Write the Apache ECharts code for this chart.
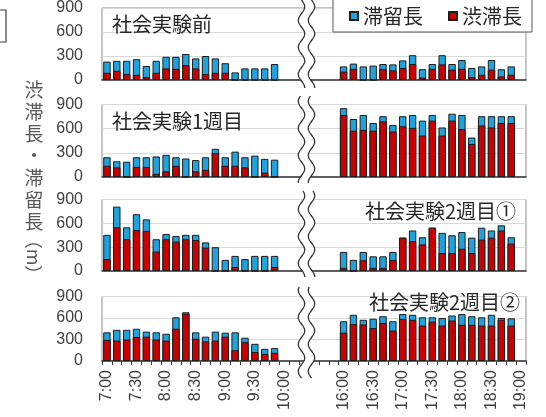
<!DOCTYPE html>
<html><head><meta charset="utf-8">
<script src="https://cdn.jsdelivr.net/npm/echarts/dist/echarts.min.js"></script>
<style>html,body{margin:0;padding:0;background:#fff}#c{width:546px;height:417px}</style>
</head><body><div id="c"></div>
<script>
// ---- categories ----
const amTimes = ['7:00','7:10','7:20','7:30','7:40','7:50','8:00','8:10','8:20','8:30','8:40','8:50','9:00','9:10','9:20','9:30','9:40','9:50','10:00'];
const gapCats = ['g1','g2','g3','g4','g5'];
const pmTimes = ['16:00','16:10','16:20','16:30','16:40','16:50','17:00','17:10','17:20','17:30','17:40','17:50','18:00','18:10','18:20','18:30','18:40','18:50','19:00'];
const yTicks = [0, 300, 600, 900];

// ---- panel titles ----
const panelTitles = ['社会実験前', '社会実験1週目', '社会実験2週目①', '社会実験2週目②'];

// ---- values (m) : 滞留長 (stay) / 渋滞長 (jam) ----
const stayBeforeAM = [230,240,240,260,175,240,290,290,325,270,300,270,210,95,145,145,145,200];
const jamBeforeAM  = [90,115,75,65,35,90,145,140,185,145,75,90,90,0,0,0,0,0];
const stayBeforePM = [170,205,170,180,200,195,245,310,135,200,310,200,250,150,170,250,135,170];
const jamBeforePM  = [105,140,0,0,135,120,150,200,30,140,195,130,140,35,65,130,45,65];

const stayW1AM = [245,195,190,245,245,255,275,245,230,210,245,350,245,315,245,265,225,215];
const jamW1AM  = [140,120,0,125,125,40,70,140,0,70,90,295,140,140,120,0,55,0];
const stayW1PM = [855,720,770,670,755,645,755,770,700,770,615,785,770,490,755,755,755,755];
const jamW1PM  = [770,575,585,575,690,565,630,610,515,700,515,700,595,410,640,615,670,670];

const stayW2aAM = [455,810,550,715,650,400,465,440,455,455,360,300,140,190,150,190,190,190];
const jamW2aAM  = [150,550,400,515,505,245,400,370,400,390,295,0,0,50,0,0,0,50];
const stayW2aPM = [240,140,240,185,185,240,420,510,425,545,480,450,490,420,545,510,575,425];
const jamW2aPM  = [40,0,135,40,40,140,420,375,335,545,225,225,280,225,395,420,510,345];

const stayW2bAM = [400,435,435,450,410,400,380,610,680,400,340,410,395,400,325,240,170,180];
const jamW2bAM  = [295,285,300,335,340,300,285,450,660,310,275,285,340,150,265,125,100,115];
const stayW2bPM = [555,645,575,590,625,555,655,645,610,610,600,635,655,625,610,645,600,595];
const jamW2bPM  = [395,515,510,460,530,425,585,575,495,550,495,565,505,505,495,495,575,495];

const stayRows = [[stayBeforeAM, stayBeforePM],[stayW1AM, stayW1PM],[stayW2aAM, stayW2aPM],[stayW2bAM, stayW2bPM]];
const jamRows  = [[jamBeforeAM, jamBeforePM],[jamW1AM, jamW1PM],[jamW2aAM, jamW2aPM],[jamW2bAM, jamW2bPM]];

// ---- build ----
const cats = amTimes.concat(gapCats, pmTimes);
function full(am, pm) {
  return am.concat([null], gapCats.map(() => null), pm, [null]);
}
const BLUE = '#1fa3de', RED = '#cc0000', EDGE = '#1e1e1e';
const gridPos = [[7.5, 72.5], [104.5, 72.5], [199.5, 71.5], [296.5, 64.5]];
const JP = '"Noto Sans CJK JP", sans-serif';
const LAT = '"Liberation Sans", Arial, sans-serif';

const grids = [], xAxes = [], yAxes = [], series = [], titles = [];
gridPos.forEach((g, i) => {
  grids.push({ left: 102, right: 20, top: g[0], height: g[1], show: true,
    borderColor: '#8c8c8c', borderWidth: 1, backgroundColor: '#fff' });
  xAxes.push({ type: 'category', gridIndex: i, data: cats,
    axisLine: { lineStyle: { color: '#3a3a3a', width: 1.6 } },
    axisTick: { show: i === 3, interval: 0, length: 4, lineStyle: { color: '#3a3a3a' } },
    axisLabel: { show: i === 3, rotate: 90, margin: 9, fontSize: 16, color: '#404040', fontFamily: LAT,
      interval: (idx, val) => /:(00|30)$/.test(val) } });
  yAxes.push({ type: 'value', gridIndex: i, min: yTicks[0], max: yTicks[yTicks.length - 1], interval: yTicks[1] - yTicks[0],
    axisLine: { show: false }, axisTick: { show: false },
    splitLine: { lineStyle: { color: '#d9d9d9', width: 1 } },
    axisLabel: { fontSize: 16, color: '#404040', margin: 19, fontFamily: LAT } });
  series.push({ type: 'bar', name: '滞留長', xAxisIndex: i, yAxisIndex: i,
    data: full(stayRows[i][0], stayRows[i][1]), barGap: '-100%', barCategoryGap: '25%',
    itemStyle: { color: BLUE, borderColor: EDGE, borderWidth: 1 }, z: 2, animation: false });
  series.push({ type: 'bar', name: '渋滞長', xAxisIndex: i, yAxisIndex: i,
    data: full(jamRows[i][0], jamRows[i][1]), barGap: '-100%', barCategoryGap: '25%',
    itemStyle: { color: RED, borderColor: EDGE, borderWidth: 1 }, z: 3, animation: false });
});
const titleStyle = { fontSize: 20, fontWeight: 'normal', color: '#262626', fontFamily: JP };
titles.push({ text: panelTitles[0], left: 112, top: 14, padding: 0, textStyle: titleStyle });
titles.push({ text: panelTitles[1], left: 112, top: 111, padding: 0, textStyle: titleStyle });
titles.push({ text: panelTitles[2], right: 30, top: 201, padding: 0, textStyle: titleStyle });
titles.push({ text: panelTitles[3], right: 26, top: 292, padding: 0, textStyle: titleStyle });

// ---- axis break decoration ----
function waveX(cx, y) { return cx + 3.2 * Math.sin(y / 27 * 2 * Math.PI); }
const LX = 301.5, RX = 311.5, YEND = 378;
const fillPts = [];
for (let y = 0; y <= YEND; y++) fillPts.push([waveX(LX, y) + 0.5, y]);
for (let y = YEND; y >= 0; y--) fillPts.push([waveX(RX, y) - 0.5, y]);
const breakEls = [{ type: 'polygon', z: 100, shape: { points: fillPts }, style: { fill: '#fff', stroke: null } }];
[[0, 88], [96, 183], [191, 277], [287, YEND]].forEach(s => {
  [LX, RX].forEach(cx => {
    const pts = [];
    for (let y = s[0]; y <= s[1]; y++) pts.push([waveX(cx, y), y]);
    breakEls.push({ type: 'polyline', z: 101, shape: { points: pts }, style: { stroke: '#333', lineWidth: 1.3, fill: null } });
  });
});

const option = {
  animation: false,
  backgroundColor: '#fff',
  title: titles,
  grid: grids, xAxis: xAxes, yAxis: yAxes, series: series,
  legend: { data: ['滞留長', '渋滞長'], left: 349, top: 6, z: 200, icon: 'rect',
    itemWidth: 8, itemHeight: 8, itemGap: 25, padding: 0,
    textStyle: { fontSize: 20, color: '#262626', fontFamily: JP } },
  graphic: breakEls.concat([
    { type: 'rect', z: 150, shape: { x: 333, y: -1, width: 199, height: 33 },
      style: { fill: '#fff', stroke: '#595959', lineWidth: 1 } },
    { type: 'polyline', z: 150, shape: { points: [[0, 10], [6, 10], [6, 42], [0, 42]] },
      style: { stroke: '#404040', lineWidth: 1.2, fill: null } },
    { type: 'text', z: 150, x: 34, y: 79,
      style: { text: '渋\n滞\n長\n・\n滞\n留\n長', fontSize: 19, lineHeight: 22, fill: '#595959',
        fontFamily: JP, align: 'center', verticalAlign: 'top' } },
    { type: 'text', z: 150, x: 34, y: 257, rotation: -Math.PI / 2,
      style: { text: '（m）', fontSize: 18, fill: '#595959', fontFamily: JP, align: 'center', verticalAlign: 'middle' } }
  ])
};
const chart = echarts.init(document.getElementById('c'), null, { renderer: 'canvas' });
chart.setOption(option);
</script></body></html>
